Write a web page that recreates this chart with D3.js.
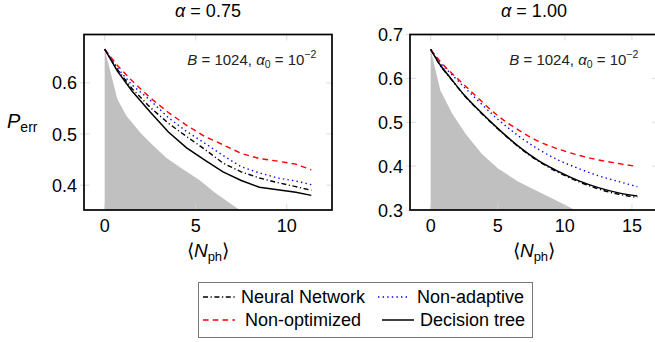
<!DOCTYPE html>
<html><head><meta charset="utf-8">
<script src="https://cdn.jsdelivr.net/npm/d3@7"></script>
<style>
html,body{margin:0;padding:0;background:#fff;}
</style></head><body>
<svg id="chart" width="655" height="342"></svg>
<script>
// ---- alpha = 0.75 ----
const titleA = "0.75";
const nphA = [0, 0.7, 1.5, 2.5, 3.5, 4.5, 5.5, 6.5, 7.5, 8.5, 9.5, 10.5, 11.35];
const neuralA = [0.666, 0.626, 0.589, 0.552, 0.521, 0.495, 0.470, 0.443, 0.426, 0.414, 0.405, 0.397, 0.390];
const nonAdaptiveA = [0.666, 0.629, 0.596, 0.566, 0.532, 0.505, 0.482, 0.458, 0.436, 0.424, 0.414, 0.408, 0.401];
const nonOptimizedA = [0.666, 0.634, 0.604, 0.571, 0.542, 0.517, 0.495, 0.479, 0.462, 0.452, 0.447, 0.441, 0.430];
const treeA = [0.666, 0.623, 0.584, 0.543, 0.504, 0.473, 0.449, 0.426, 0.409, 0.396, 0.391, 0.386, 0.380];
const boundNphA = [0, 0.7, 1.2, 2, 2.7, 3.4, 4.3, 5.2, 6.1, 7.4, 8.5, 10, 11.35];
const boundA = [0.666, 0.568, 0.535, 0.501, 0.476, 0.453, 0.431, 0.410, 0.384, 0.352, 0.333, 0.310, 0.290];
const xTicksA = [0, 5, 10];
const yTicksA = [0.4, 0.5, 0.6];

// ---- alpha = 1.00 ----
const titleB = "1.00";
const nphB = [0, 0.7, 1.5, 2.5, 3.5, 5, 6.5, 8, 9.5, 11, 12.5, 14, 15.4];
const neuralB = [0.666, 0.630, 0.599, 0.561, 0.529, 0.485, 0.445, 0.412, 0.386, 0.365, 0.348, 0.336, 0.329];
const nonAdaptiveB = [0.666, 0.636, 0.611, 0.580, 0.550, 0.507, 0.470, 0.439, 0.414, 0.395, 0.378, 0.365, 0.353];
const nonOptimizedB = [0.666, 0.639, 0.614, 0.585, 0.556, 0.515, 0.483, 0.457, 0.439, 0.425, 0.414, 0.406, 0.399];
const treeB = [0.666, 0.631, 0.600, 0.562, 0.530, 0.486, 0.446, 0.413, 0.388, 0.367, 0.351, 0.339, 0.332];
const boundNphB = [0, 0.72, 1.6, 2.6, 3.8, 5, 6.5, 8, 9.4, 10.75, 12.5, 15.4];
const boundB = [0.666, 0.573, 0.520, 0.474, 0.428, 0.395, 0.365, 0.342, 0.321, 0.300, 0.280, 0.255];
const xTicksB = [0, 5, 10, 15];
const yTicksB = [0.3, 0.4, 0.5, 0.6, 0.7];

// ---- series styles and legend labels ----
const seriesNames = ["Neural Network", "Non-adaptive", "Non-optimized", "Decision tree"];
const seriesColors = ["#000000", "#0000ff", "#ff0000", "#000000"];
const seriesDash = ["5,2.6,1.2,2.6", "1.4,3.2", "5.6,4.2", null];

const fontFam = "'Liberation Sans', Arial, sans-serif";
const svg = d3.select("#chart");
const frameTop = 34.5, frameBottom = 210, frameWidth = 248;

const panels = [
  {left: 84, title: titleA, nph: nphA, series: [neuralA, nonAdaptiveA, nonOptimizedA, treeA],
   boundNph: boundNphA, bound: boundA, xTicks: xTicksA, yTicks: yTicksA, yDomain: null,
   curve: d3.curveLinear},
  {left: 410, title: titleB, nph: nphB, series: [neuralB, nonAdaptiveB, nonOptimizedB, treeB],
   boundNph: boundNphB, bound: boundB, xTicks: xTicksB, yTicks: yTicksB, yDomain: [0.3, 0.7],
   curve: d3.curveMonotoneX}
];

// pgfplots-style 10% enlargement of the data limits
function enlarge(lo, hi) { const d = (hi - lo) * 0.1; return [lo - d, hi + d]; }

function txt(sel) { return sel.append("text").attr("font-family", fontFam); }

panels.forEach((p, pi) => {
  const xMax = d3.max(p.nph);
  const all = p.series.flat();
  const x = d3.scaleLinear().domain(enlarge(0, xMax)).range([p.left, p.left + frameWidth]);
  const y = d3.scaleLinear()
    .domain(p.yDomain || enlarge(d3.min(all), d3.max(all)))
    .range([frameBottom, frameTop]);

  const g = svg.append("g");
  const clipId = "clip" + pi;
  svg.append("clipPath").attr("id", clipId).append("rect")
    .attr("x", p.left).attr("y", frameTop).attr("width", frameWidth).attr("height", frameBottom - frameTop);

  const plot = g.append("g").attr("clip-path", `url(#${clipId})`);

  // shaded lower bound
  const area = d3.area().x(d => x(d[0])).y0(frameBottom + 2).y1(d => y(d[1]));
  plot.append("path")
    .datum(p.boundNph.map((n, i) => [n, p.bound[i]]))
    .attr("d", area).attr("fill", "#c0c0c0");

  // light tick marks inside the frame
  const tickCol = "#d4d4d4";
  p.xTicks.forEach(t => {
    g.append("line").attr("x1", x(t)).attr("x2", x(t)).attr("y1", frameBottom).attr("y2", frameBottom - 6)
      .attr("stroke", tickCol).attr("stroke-width", 0.8);
    g.append("line").attr("x1", x(t)).attr("x2", x(t)).attr("y1", frameTop).attr("y2", frameTop + 6)
      .attr("stroke", tickCol).attr("stroke-width", 0.8);
  });
  p.yTicks.forEach(t => {
    g.append("line").attr("x1", p.left - 4).attr("x2", p.left + 6).attr("y1", y(t)).attr("y2", y(t))
      .attr("stroke", tickCol).attr("stroke-width", 0.8);
    g.append("line").attr("x1", p.left + frameWidth).attr("x2", p.left + frameWidth - 6).attr("y1", y(t)).attr("y2", y(t))
      .attr("stroke", tickCol).attr("stroke-width", 0.8);
  });

  // curves
  const line = d3.line().x(d => x(d[0])).y(d => y(d[1])).curve(p.curve);
  p.series.forEach((vals, si) => {
    plot.append("path")
      .datum(p.nph.map((n, i) => [n, vals[i]]))
      .attr("d", line).attr("fill", "none")
      .attr("stroke", seriesColors[si])
      .attr("stroke-width", si === 3 ? 1.5 : 1.4)
      .attr("stroke-dasharray", seriesDash[si]);
  });

  // frame
  g.append("rect").attr("x", p.left).attr("y", frameTop)
    .attr("width", frameWidth).attr("height", frameBottom - frameTop)
    .attr("fill", "none").attr("stroke", "#000").attr("stroke-width", 1.7);

  // tick labels
  p.xTicks.forEach(t => {
    txt(g).attr("x", x(t)).attr("y", 232).attr("text-anchor", "middle")
      .attr("font-size", 18).text(d3.format("d")(t));
  });
  p.yTicks.forEach(t => {
    txt(g).attr("x", p.left - 7).attr("y", y(t) + 6.5).attr("text-anchor", "end")
      .attr("font-size", 18).text(d3.format(".1f")(t));
  });

  // title
  const cx = p.left + frameWidth / 2;
  const tt = txt(g).attr("x", cx).attr("y", 17).attr("text-anchor", "middle").attr("font-size", 18);
  tt.append("tspan").attr("font-style", "italic").text("α");
  tt.append("tspan").text(" = " + p.title);

  // x label
  const xl = txt(g).attr("x", cx).attr("y", 257).attr("text-anchor", "middle").attr("font-size", 19);
  xl.append("tspan").text("⟨");
  xl.append("tspan").attr("font-style", "italic").text("N");
  xl.append("tspan").attr("font-size", 13).attr("dy", 4).text("ph");
  xl.append("tspan").attr("dy", -4).text("⟩");

  // annotation
  const an = txt(g).attr("x", x(xMax) + (pi === 0 ? 5 : 1)).attr("y", 65)
    .attr("text-anchor", "end").attr("font-size", 15).attr("fill", "#222");
  an.append("tspan").attr("font-style", "italic").text("B");
  an.append("tspan").text(" = 1024, ");
  an.append("tspan").attr("font-style", "italic").text("α");
  an.append("tspan").attr("font-size", 10.5).attr("dy", 3).text("0");
  an.append("tspan").attr("dy", -3).text(" = 10");
  an.append("tspan").attr("font-size", 10.5).attr("dy", -7).text("−2");
});

// y label
const yl = txt(svg).attr("x", 7).attr("y", 128).attr("font-size", 20);
yl.append("tspan").attr("font-style", "italic").text("P");
yl.append("tspan").attr("font-size", 14).attr("dy", 4).text("err");

// legend
const leg = svg.append("g");
leg.append("rect").attr("x", 198.5).attr("y", 282.5).attr("width", 334).attr("height", 55)
  .attr("fill", "#fff").attr("stroke", "#777").attr("stroke-width", 1);
const legPos = [
  {sx: 203, tx: 241, y: 297},
  {sx: 378, tx: 417, y: 297},
  {sx: 203, tx: 245, y: 320},
  {sx: 382, tx: 420, y: 320}
];
seriesNames.forEach((name, i) => {
  const lp = legPos[i];
  leg.append("line").attr("x1", lp.sx).attr("x2", lp.sx + 32).attr("y1", lp.y).attr("y2", lp.y)
    .attr("stroke", seriesColors[i]).attr("stroke-width", i === 3 ? 1.5 : 1.4)
    .attr("stroke-dasharray", seriesDash[i]);
  txt(leg).attr("x", lp.tx).attr("y", lp.y + 6).attr("font-size", 18).text(name);
});
</script>
</body></html>
